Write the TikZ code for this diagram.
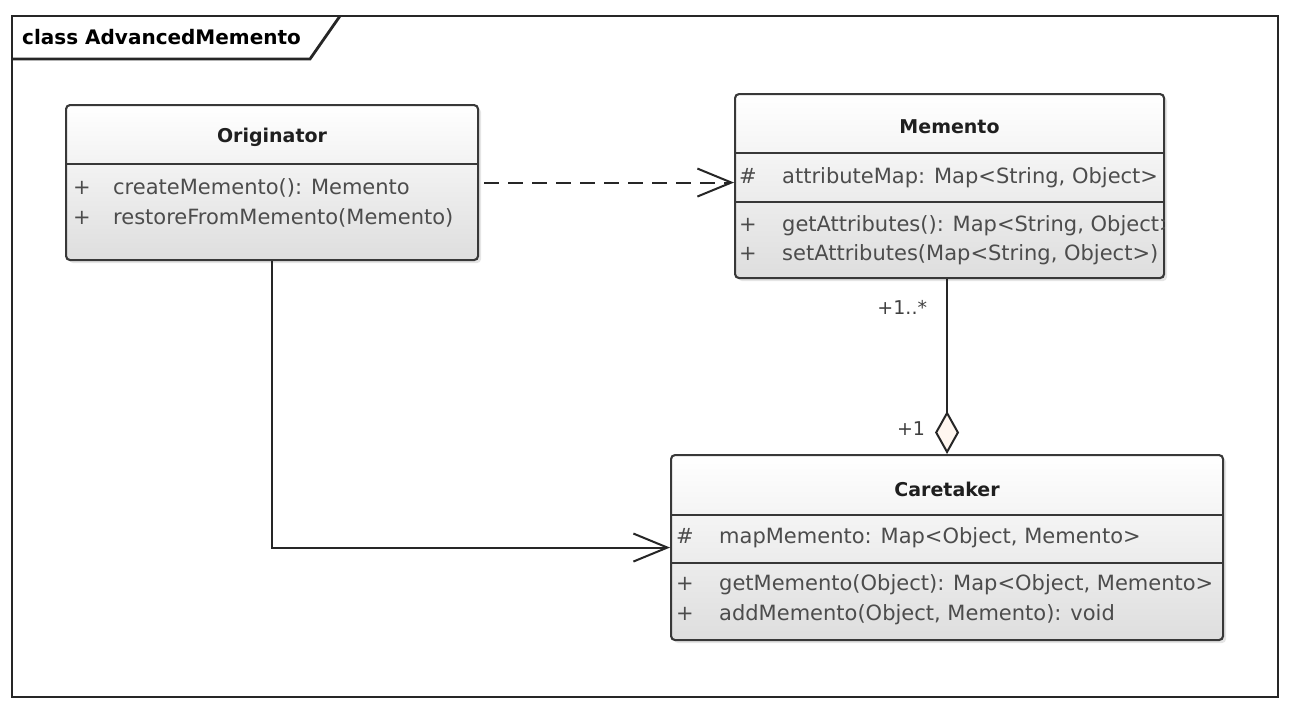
\documentclass[tikz,border=0pt]{standalone}
\usepackage{fontspec}
\setmainfont{DejaVu Sans}
\usepackage{tikz}
\usetikzlibrary{positioning}
\usetikzlibrary{calc}
\usetikzlibrary{shadows}
\usetikzlibrary{arrows.meta}

\begin{document}
\begin{tikzpicture}[x=1pt, y=-1pt, node distance = 3 cm]
% tikz settings
\fontsize{21}{29.5}\selectfont
\tikzstyle{diagramframe} = [draw=black!85, line width=2.8pt]
\tikzstyle{classbox} = [draw=black!78, line width=2.1pt, rounded corners=4pt,
    anchor=north west, inner sep=0pt, top color=white, bottom color=black!13,
    drop shadow={opacity=0.2, shadow xshift=3pt, shadow yshift=-3pt}]
\tikzstyle{classname} = [font=\fontsize{19}{23}\selectfont\bfseries, text=black!88]
\tikzstyle{member} = [anchor=west, inner sep=0pt, align=left, text=black!70]
\tikzstyle{divider} = [draw=black!78, line width=2.1pt]
\tikzstyle{line} = [draw=black!85, line width=2pt]
\tikzstyle{barb} = [-{Straight Barb[length=34pt, width=28pt]}]
\tikzstyle{aggregation} = [-{Diamond[length=43pt, width=24pt, fill=orange!6]}]
\tikzstyle{mult} = [inner sep=0pt, anchor=east, font=\fontsize{19}{23}\selectfont, text=black!75]

% the tikz picture
\useasboundingbox[fill=white] (0,0) rectangle (1291,710);
\draw[diagramframe] (12,16) rectangle (1278,697);
\draw[diagramframe] (12,59) -- (310,59) -- (340,16);
\node[anchor=west, inner sep=0pt, font=\fontsize{20}{24}\selectfont\bfseries] (framename) at (22,37) {class AdvancedMemento};

% Originator
\node[classbox, minimum width=412pt, minimum height=155pt] (originator) at (65,104) {};
\node[classname] (originatorname) at (originator.center |- 0,137) {Originator};
\draw[divider] (originator.west |- 0,164) -- (originator.east |- 0,164);
\node[member] (originatorops) at (73,203) {\makebox[40pt][l]{+}createMemento(): Memento\\\makebox[40pt][l]{+}restoreFromMemento(Memento)};

% Memento
\node[classbox, minimum width=429pt, minimum height=184pt] (memento) at (734,93) {};
\node[classname] (mementoname) at (memento.center |- 0,127) {Memento};
\draw[divider] (memento.west |- 0,153) -- (memento.east |- 0,153);
\draw[divider] (memento.west |- 0,202) -- (memento.east |- 0,202);
\node[member] (mementoattr) at (739,178) {\makebox[43pt][l]{\#}attributeMap: Map<String, Object>};
\begin{scope}
\clip (memento.north west) rectangle ([xshift=-1pt]memento.south east);
\node[member] (mementoops) at (739,240) {\makebox[43pt][l]{+}getAttributes(): Map<String, Object>\\\makebox[43pt][l]{+}setAttributes(Map<String, Object>)};
\end{scope}

% Caretaker
\node[classbox, minimum width=552pt, minimum height=185pt] (caretaker) at (670,454) {};
\node[classname] (caretakername) at (caretaker.center |- 0,489) {Caretaker};
\draw[divider] (caretaker.west |- 0,515) -- (caretaker.east |- 0,515);
\draw[divider] (caretaker.west |- 0,563) -- (caretaker.east |- 0,563);
\node[member] (caretakerattr) at (676,538) {\makebox[43pt][l]{\#}mapMemento: Map<Object, Memento>};
\node[member] (caretakerops) at (676,599.5) {\makebox[43pt][l]{+}getMemento(Object): Map<Object, Memento>\\\makebox[43pt][l]{+}addMemento(Object, Memento): void};

% connectors
\draw[line, dashed, dash pattern=on 15pt off 9pt, barb, shorten <=5pt] (originator.east) -- (originator.east -| memento.west);
\draw[line, barb] (originator.south) |- (caretaker.west);
\draw[line, aggregation] (caretaker.north |- memento.south) -- node[mult, pos=0.16, xshift=-19pt] (mementomult) {+1..*} node[mult, pos=0.853, xshift=-21pt] (caretakermult) {+1} (caretaker.north);
\end{tikzpicture}
\end{document}
